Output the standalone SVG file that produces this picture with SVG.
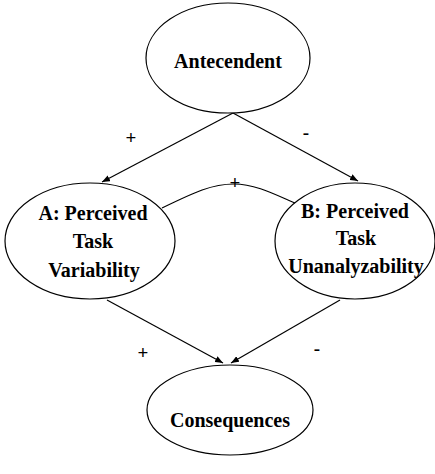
<svg xmlns="http://www.w3.org/2000/svg" width="435" height="474" viewBox="0 0 435 474">
  <style>
    .node { fill: #ffffff; stroke: #000000; stroke-width: 1.2; }
    .label { font-family: "Liberation Serif", "Times New Roman", serif; font-weight: bold; font-size: 20px; fill: #000000; text-anchor: middle; }
    .sign { font-family: "Liberation Serif", "Times New Roman", serif; font-weight: bold; font-size: 19px; fill: #000000; text-anchor: middle; }
    .edge { fill: none; stroke: #000000; stroke-width: 1.2; }
  </style>
  <defs>
    <marker id="arrow" viewBox="0 0 10 8" refX="10" refY="4" markerWidth="8" markerHeight="6.5" orient="auto" markerUnits="userSpaceOnUse">
      <path d="M0,0 L10,4 L0,8 Z" fill="#000000"/>
    </marker>
  </defs>
  <rect width="435" height="474" fill="#ffffff"/>

  <g id="connectors">
    <line class="edge" x1="233" y1="113" x2="102" y2="182" marker-end="url(#arrow)"/>
    <line class="edge" x1="233" y1="113" x2="358" y2="181" marker-end="url(#arrow)"/>
    <path class="edge" d="M162,208 C195,192 212,184 234,184 C256,184 276,195 297,204"/>
    <line class="edge" x1="107" y1="300" x2="223" y2="363" marker-end="url(#arrow)"/>
    <line class="edge" x1="340" y1="300" x2="231" y2="363" marker-end="url(#arrow)"/>
    <text class="sign" x="131" y="144">+</text>
    <text class="sign" x="306" y="139">-</text>
    <text class="sign" x="235" y="189">+</text>
    <text class="sign" x="143" y="359">+</text>
    <text class="sign" x="317" y="355">-</text>
  </g>

  <g id="antecedent">
    <ellipse class="node" cx="228" cy="58" rx="82" ry="55"/>
    <text class="label" x="228" y="68">Antecendent</text>
  </g>

  <g id="variability">
    <ellipse class="node" cx="90" cy="241" rx="85" ry="58"/>
    <text class="label" x="93" y="220">A: Perceived</text>
    <text class="label" x="93" y="248">Task</text>
    <text class="label" x="94" y="277">Variability</text>
  </g>

  <g id="unanalyzability">
    <ellipse class="node" cx="355" cy="241" rx="80" ry="58"/>
    <text class="label" x="355" y="218">B: Perceived</text>
    <text class="label" x="356" y="245">Task</text>
    <text class="label" x="356" y="273">Unanalyzability</text>
  </g>

  <g id="consequences">
    <ellipse class="node" cx="230" cy="410" rx="83" ry="45"/>
    <text class="label" x="230" y="427">Consequences</text>
  </g>
</svg>
